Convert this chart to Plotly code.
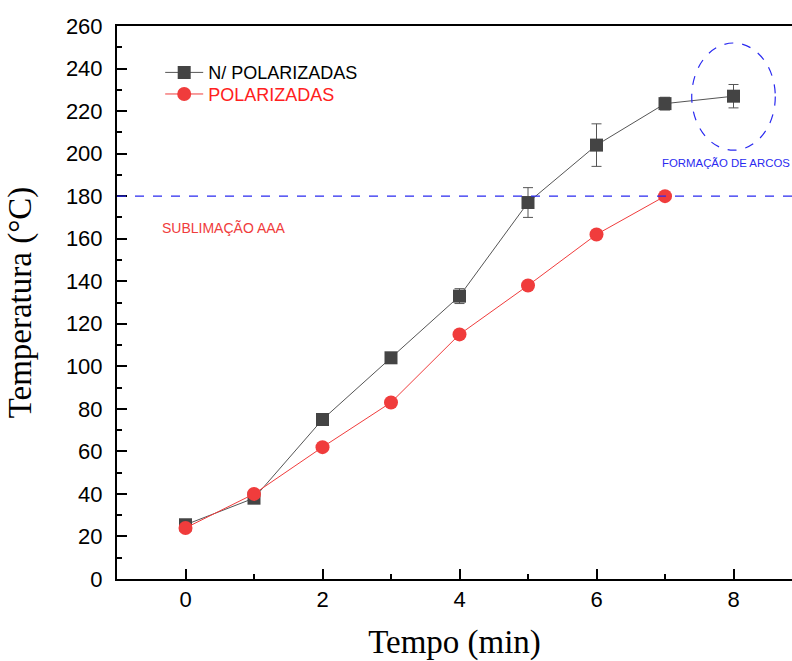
import plotly.graph_objects as go

tempo = [0, 1, 2, 3, 4, 5, 6, 7, 8]
n_polarizadas = [25.5, 38, 75, 104, 133, 177, 204, 223.5, 227]
n_pol_err = [1.5, 1, 1, 1, 3.5, 7, 10, 3, 5.5]
tempo_pol = [0, 1, 2, 3, 4, 5, 6, 7]
polarizadas = [24, 40, 62, 83, 115, 138, 162, 180]

BLUE = "#2a2af0"
RED = "#f03c3c"

fig = go.Figure()
fig.add_trace(go.Scatter(
    x=tempo, y=n_polarizadas, mode="lines+markers", name="N/ POLARIZADAS",
    line=dict(color="#555555", width=1),
    marker=dict(symbol="square", size=13, color="#444444"),
    error_y=dict(type="data", array=n_pol_err, visible=True, color="#555555", thickness=1, width=5),
    legend="legend",
))
fig.add_trace(go.Scatter(
    x=tempo_pol, y=polarizadas, mode="lines+markers", name="POLARIZADAS",
    line=dict(color=RED, width=1),
    marker=dict(symbol="circle", size=14, color=RED),
    legend="legend2",
))

fig.add_shape(type="line", xref="paper", x0=0, x1=1, yref="y", y0=180, y1=180,
              line=dict(color=BLUE, width=1.2, dash="dash"))
fig.add_shape(type="circle", xref="x", yref="y", x0=7.39, x1=8.61, y0=201.6, y1=252,
              line=dict(color=BLUE, width=1.2, dash="dash"))

fig.add_annotation(x=7.89, y=195.5, text="FORMAÇÃO DE ARCOS", showarrow=False,
                   font=dict(family="Liberation Sans, Arial", size=11.4, color=BLUE))
fig.add_annotation(x=0.56, y=165, text="SUBLIMAÇÃO AAA", showarrow=False,
                   font=dict(family="Liberation Sans, Arial", size=14, color=RED))

legend_common = dict(xanchor="left", yanchor="top", bgcolor="rgba(0,0,0,0)",
                     borderwidth=0, itemwidth=38)
fig.update_layout(
    width=792, height=661,
    margin=dict(l=117, r=0, t=26, b=82),
    plot_bgcolor="white", paper_bgcolor="white",
    showlegend=True,
    legend=dict(x=0.064, y=0.949,
                font=dict(family="Liberation Sans, Arial", size=18, color="black"),
                **legend_common),
    legend2=dict(x=0.064, y=0.910,
                 font=dict(family="Liberation Sans, Arial", size=18, color="#ff2020"),
                 **legend_common),
    font=dict(family="Liberation Sans, Arial", color="black"),
)
fig.update_xaxes(
    range=[-1, 8.854], tickmode="array", tickvals=[0, 2, 4, 6, 8],
    ticks="inside", ticklen=10, tickwidth=2, tickcolor="black",
    minor=dict(tickvals=[-1, 1, 3, 5, 7], ticks="inside", ticklen=5, tickwidth=2, tickcolor="black"),
    showline=True, linewidth=2, linecolor="black", mirror=True,
    showgrid=False, zeroline=False,
    tickfont=dict(family="Liberation Sans, Arial", size=22),
    title=dict(text="Tempo (min)", font=dict(family="Liberation Serif, Times New Roman", size=33), standoff=26),
)
fig.update_yaxes(
    range=[0, 260], tickmode="linear", tick0=0, dtick=20,
    ticks="inside", ticklen=10, tickwidth=2, tickcolor="black",
    minor=dict(dtick=10, ticks="inside", ticklen=5, tickwidth=2, tickcolor="black"),
    showline=True, linewidth=2, linecolor="black",
    showgrid=False, zeroline=False,
    ticklabelstandoff=8,
    tickfont=dict(family="Liberation Sans, Arial", size=22),
    title=dict(text="Temperatura (°C)", font=dict(family="Liberation Serif, Times New Roman", size=33), standoff=24),
)

fig.write_html("out.html")
